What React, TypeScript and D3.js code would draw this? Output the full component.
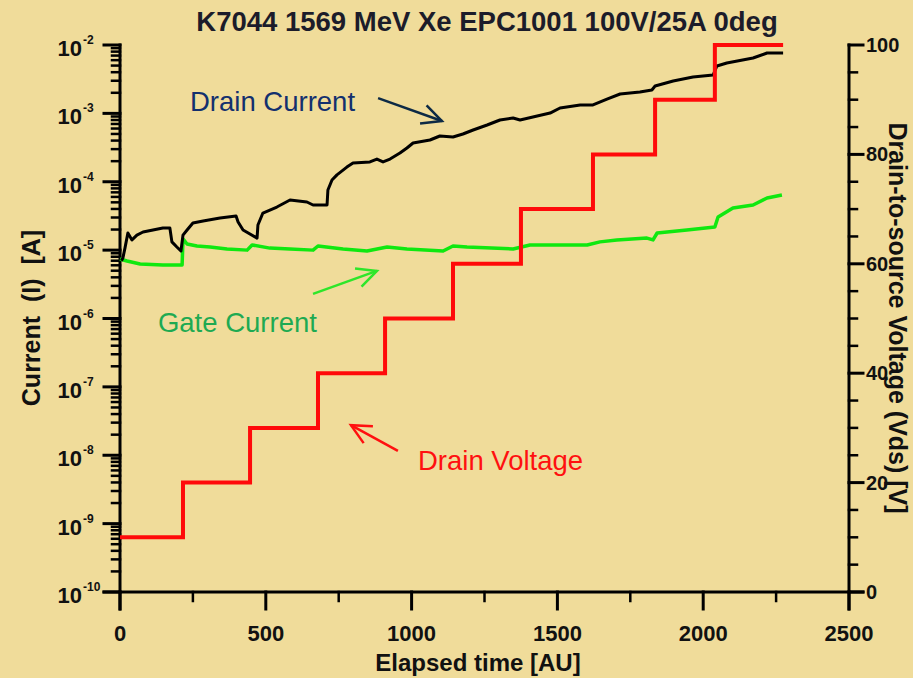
import React, { useEffect } from "react";
import * as d3 from "d3";

// ---- Data ----
const voltTime = [0, 216, 446, 679, 909, 1142, 1375, 1622, 1835, 2040, 2274];
const voltValue = [10, 20, 30, 40, 50, 60, 70, 80, 90, 100, 100];

const drainTime = [5, 10, 17, 27, 41, 58, 79, 113, 147, 171, 178, 195, 209, 216, 230, 250, 285, 343, 398, 405, 422, 470, 473, 490, 538, 583, 641, 662, 710, 713, 727, 744, 778, 799, 857, 881, 902, 926, 960, 984, 1005, 1063, 1097, 1142, 1176, 1211, 1259, 1303, 1348, 1372, 1416, 1475, 1509, 1578, 1622, 1670, 1715, 1783, 1824, 1835, 1897, 1965, 2034, 2047, 2081, 2171, 2219, 2274];
const drainCurrent = [7.0e-6, 7.7e-6, 1.07e-5, 1.78e-5, 1.41e-5, 1.66e-5, 1.84e-5, 1.97e-5, 2.11e-5, 2.11e-5, 1.32e-5, 1.11e-5, 9.7e-6, 1.66e-5, 1.97e-5, 2.49e-5, 2.67e-5, 2.95e-5, 3.16e-5, 2.58e-5, 1.97e-5, 1.5e-5, 2.33e-5, 3.49e-5, 4.27e-5, 5.41e-5, 5.06e-5, 4.57e-5, 4.57e-5, 7.57e-5, 1.06e-4, 1.26e-4, 1.64e-4, 1.88e-4, 1.95e-4, 2.15e-4, 1.95e-4, 2.15e-4, 2.63e-4, 3.12e-4, 3.69e-4, 4.08e-4, 4.67e-4, 4.51e-4, 4.99e-4, 5.71e-4, 6.76e-4, 8.0e-4, 8.55e-4, 8.0e-4, 8.85e-4, 1.01e-3, 1.2e-3, 1.33e-3, 1.33e-3, 1.62e-3, 1.92e-3, 2.05e-3, 2.2e-3, 2.51e-3, 2.97e-3, 3.4e-3, 3.64e-3, 4.93e-3, 5.46e-3, 6.45e-3, 7.64e-3, 7.64e-3];

const gateTime = [0, 24, 69, 147, 213, 216, 230, 264, 309, 367, 436, 453, 514, 583, 662, 679, 765, 847, 916, 984, 1108, 1142, 1190, 1348, 1406, 1485, 1602, 1646, 1704, 1807, 1828, 1842, 1944, 2040, 2051, 2102, 2171, 2219, 2270];
const gateCurrent = [7.41e-6, 6.93e-6, 6.27e-6, 6.06e-6, 6.06e-6, 1.46e-5, 1.23e-5, 1.15e-5, 1.11e-5, 1.04e-5, 1.0e-5, 1.19e-5, 1.07e-5, 1.04e-5, 1.0e-5, 1.15e-5, 1.04e-5, 9.7e-6, 1.11e-5, 1.04e-5, 9.7e-6, 1.15e-5, 1.11e-5, 1.04e-5, 1.19e-5, 1.19e-5, 1.19e-5, 1.32e-5, 1.41e-5, 1.5e-5, 1.41e-5, 1.78e-5, 1.97e-5, 2.18e-5, 3.05e-5, 4.13e-5, 4.57e-5, 5.78e-5, 6.4e-5];

const xTicks = [0, 500, 1000, 1500, 2000, 2500];
const xMinorTicks = [250, 750, 1250, 1750, 2250];
const leftExponents = [-2, -3, -4, -5, -6, -7, -8, -9, -10];
const rightTicks = [0, 20, 40, 60, 80, 100];

const titleText = "K7044 1569 MeV Xe EPC1001 100V/25A 0deg";
const xTitle = "Elapsed time [AU]";
const yLeftTitle = "Current  (I)  [A]";
const yRightTitle = "Drain-to-source Voltage (Vds) [V]";

// annotations in (time, voltage-axis) coordinates
const annotations = [
  { text: "Drain Current", t: 240, v: 88.0, color: "#13306e", arrowColor: "#0d2a45", from: [885, 90.3], to: [1104, 86.1] },
  { text: "Gate Current", t: 130, v: 47.5, color: "#1eaa52", arrowColor: "#2ee62a", from: [662, 54.5], to: [881, 58.7] },
  { text: "Drain Voltage", t: 1022, v: 22.3, color: "#ff1010", arrowColor: "#ff1010", from: [953, 25.8], to: [792, 30.5] },
];

const W = 913;
const H = 678;
const FONT = "'Liberation Sans', Arial, Helvetica, sans-serif";

export default function App() {
  useEffect(() => {
    document.body.style.margin = "0";
    document.body.style.background = "#f0dc9a";
  }, []);

  const x = d3.scaleLinear().domain([0, 2500]).range([120, 849]);
  const yI = d3.scaleLog().domain([1e-10, 1e-2]).range([592, 45]);
  const yV = d3.scaleLinear().domain([0, 100]).range([592, 45]);

  const x0 = x(0);
  const x1 = x(2500);
  const yBottom = yI(1e-10);
  const yTop = yI(1e-2);

  const drainLine = d3.line<number>().x((_, i) => x(drainTime[i])).y((d) => yI(d)).curve(d3.curveLinear)(drainCurrent) || "";
  const gateLine = d3.line<number>().x((_, i) => x(gateTime[i])).y((d) => yI(d)).curve(d3.curveLinear)(gateCurrent) || "";
  const voltLine = d3.line<number>().x((_, i) => x(voltTime[i])).y((d) => yV(d)).curve(d3.curveStepAfter)(voltValue) || "";

  const leftMinor: number[] = [];
  for (let e = -10; e < -2; e++) {
    for (let k = 2; k <= 9; k++) leftMinor.push(k * Math.pow(10, e));
  }
  const rightMinor: number[] = [];
  for (let v = 0; v <= 100; v += 5) if (v % 20 !== 0) rightMinor.push(v);

  const arrowHead = (fx: number, fy: number, tx: number, ty: number) => {
    const ang = Math.atan2(ty - fy, tx - fx);
    const len = 22;
    const spread = (26 * Math.PI) / 180;
    const a1 = ang + Math.PI - spread;
    const a2 = ang + Math.PI + spread;
    return `M${tx + len * Math.cos(a1)},${ty + len * Math.sin(a1)}L${tx},${ty}L${tx + len * Math.cos(a2)},${ty + len * Math.sin(a2)}`;
  };

  const axisStroke = "#000";

  return (
    <svg width={W} height={H} style={{ position: "absolute", left: 0, top: 0, display: "block" }} fontFamily={FONT}>
      <rect x={0} y={0} width={W} height={H} fill="#f0dc9a" />

      {/* title */}
      <text x={487} y={31} textAnchor="middle" fontSize={27.5} fontWeight="bold" fill="#1c1c2a">
        {titleText}
      </text>

      {/* axes lines */}
      <g stroke={axisStroke} strokeWidth={3} fill="none" strokeLinecap="square">
        <line x1={x0} y1={yTop} x2={x0} y2={609} />
        <line x1={x1} y1={yTop} x2={x1} y2={609} />
        <line x1={104} y1={yBottom} x2={863} y2={yBottom} />
        {leftExponents.map((e) => (
          <line key={"lm" + e} x1={104} x2={x0} y1={yI(Math.pow(10, e))} y2={yI(Math.pow(10, e))} />
        ))}
        {leftMinor.map((v, i) => (
          <line key={"ln" + i} x1={112} x2={x0} y1={yI(v)} y2={yI(v)} strokeWidth={2.5} />
        ))}
        {rightTicks.map((v) => (
          <line key={"rm" + v} x1={x1} x2={863} y1={yV(v)} y2={yV(v)} />
        ))}
        {rightMinor.map((v) => (
          <line key={"rn" + v} x1={x1} x2={857} y1={yV(v)} y2={yV(v)} strokeWidth={2.5} />
        ))}
        {xTicks.map((t) => (
          <line key={"xm" + t} x1={x(t)} x2={x(t)} y1={yBottom} y2={609} />
        ))}
        {xMinorTicks.map((t) => (
          <line key={"xn" + t} x1={x(t)} x2={x(t)} y1={yBottom} y2={601} strokeWidth={2.5} />
        ))}
      </g>

      {/* left tick labels */}
      {leftExponents.map((e) => {
        const y = yI(Math.pow(10, e));
        return (
          <g key={"ll" + e} fontWeight="bold" fill="#111">
            <text x={82} y={y + 11} textAnchor="end" fontSize={22}>10</text>
            <text x={83} y={y - 1} textAnchor="start" fontSize={12}>{"-" + Math.abs(e)}</text>
          </g>
        );
      })}

      {/* right tick labels */}
      {rightTicks.map((v) => (
        <text key={"rl" + v} x={866} y={yV(v) + 7} fontSize={20} fontWeight="bold" fill="#111">
          {v}
        </text>
      ))}

      {/* bottom tick labels */}
      {xTicks.map((t) => (
        <text key={"xl" + t} x={x(t)} y={641} textAnchor="middle" fontSize={22} fontWeight="bold" fill="#111">
          {t}
        </text>
      ))}

      {/* axis titles */}
      <text x={478} y={671} textAnchor="middle" fontSize={24} fontWeight="bold" fill="#111">
        {xTitle}
      </text>
      <text transform={`translate(40,318) rotate(-90)`} textAnchor="middle" fontSize={25} fontWeight="bold" fill="#111" style={{ whiteSpace: "pre" }}>
        {yLeftTitle}
      </text>
      <text transform={`translate(889,318) rotate(90)`} textAnchor="middle" fontSize={25} fontWeight="bold" fill="#111">
        {yRightTitle}
      </text>

      {/* data */}
      <path d={gateLine} fill="none" stroke="#10e810" strokeWidth={3.5} strokeLinejoin="round" />
      <path d={drainLine} fill="none" stroke="#000" strokeWidth={3} strokeLinejoin="round" />
      <path d={voltLine} fill="none" stroke="#ff0a0a" strokeWidth={4} />

      {/* annotations */}
      {annotations.map((a) => {
        const fx = x(a.from[0]);
        const fy = yV(a.from[1]);
        const tx = x(a.to[0]);
        const ty = yV(a.to[1]);
        return (
          <g key={a.text}>
            <text x={x(a.t)} y={yV(a.v)} fontSize={27.5} fill={a.color}>
              {a.text}
            </text>
            <line x1={fx} y1={fy} x2={tx} y2={ty} stroke={a.arrowColor} strokeWidth={2.5} />
            <path d={arrowHead(fx, fy, tx, ty)} fill="none" stroke={a.arrowColor} strokeWidth={2.5} />
          </g>
        );
      })}
    </svg>
  );
}
